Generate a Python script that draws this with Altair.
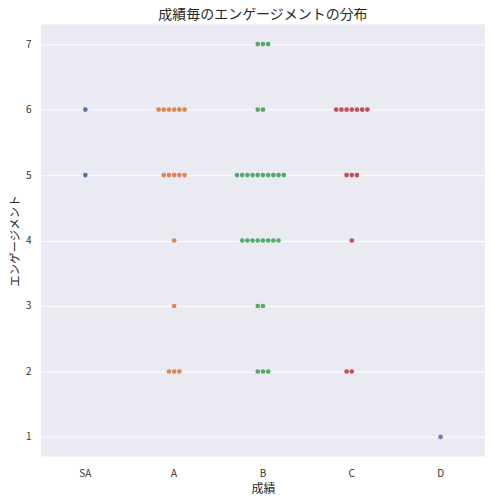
import altair as alt
import pandas as pd

grades = ["SA", "A", "B", "C", "D"]
colors = ["#4c72b0", "#dd8452", "#55a868", "#c44e52", "#8172b3"]
# (grade, engagement, number of students)
group_grade = ["SA", "SA", "A", "A", "A", "A", "A", "B", "B", "B", "B", "B", "B", "C", "C", "C", "C", "D"]
group_eng =   [6,    5,    6,   5,   4,   3,   2,   7,   6,   5,   4,   3,   2,   6,   5,   4,   2,   1]
group_count = [1,    1,    6,   5,   1,   1,   3,   3,   2,   10,  8,   2,   3,   7,   3,   1,   2,   1]

rows = []
for g, e, n in zip(group_grade, group_eng, group_count):
    for i in range(n):
        # swarm order: 0, -1, +1, -2, +2, ...
        k = (i + 1) // 2
        off = -k if i % 2 == 1 else k
        rows.append({"成績": g, "エンゲージメント": e, "off": off})
df = pd.DataFrame(rows)

FONT = "Noto Sans CJK JP"

chart = alt.Chart(df).mark_circle(size=22, opacity=1).encode(
    x=alt.X("成績:N", sort=grades,
            scale=alt.Scale(type="band", domain=grades, paddingInner=0, paddingOuter=0),
            axis=alt.Axis(labelAngle=0, ticks=False, domain=False, grid=False,
                          labelPadding=12, titlePadding=5, titleFontSize=12)),
    xOffset=alt.XOffset("off:Q", scale=alt.Scale(domain=[-10, 10], range=[-7.5, 96.5])),
    y=alt.Y("エンゲージメント:Q", scale=alt.Scale(domain=[0.7, 7.3], nice=False, zero=False),
            axis=alt.Axis(values=[1, 2, 3, 4, 5, 6, 7], ticks=False, domain=False,
                          grid=True, gridColor="white", gridWidth=1,
                          labelPadding=10, titlePadding=5, titleFontSize=11.5)),
    color=alt.Color("成績:N", scale=alt.Scale(domain=grades, range=colors), legend=None),
).properties(
    width=445, height=433,
    title=alt.TitleParams("成績毎のエンゲージメントの分布", fontSize=14, fontWeight="normal",
                          color="#262626", font=FONT, offset=2),
    autosize=alt.AutoSizeParams(type="none"),
    padding={"left": 33, "top": 16, "right": 0, "bottom": 45},
).configure_view(
    fill="#eaeaf2", stroke=None
).configure_axis(
    labelFont=FONT, titleFont=FONT, labelFontSize=10,
    labelColor="#333333", titleColor="#262626", titleFontWeight="normal"
)

chart.save("out.html", embed_options={"renderer": "svg", "actions": False})
